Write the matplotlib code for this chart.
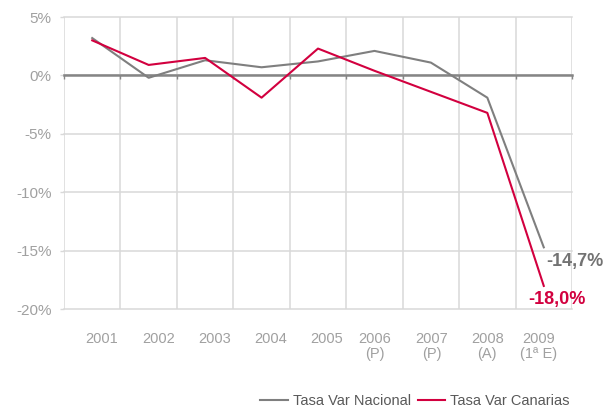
import matplotlib.pyplot as plt
from matplotlib.transforms import offset_copy, blended_transform_factory
from matplotlib.ticker import FuncFormatter

plt.rcParams['font.family'] = ['Liberation Sans', 'DejaVu Sans']

# Datos
years = ["2001", "2002", "2003", "2004", "2005", "2006\n(P)", "2007\n(P)", "2008\n(A)", "2009\n(1ª E)"]
nacional = [3.2, -0.2, 1.3, 0.7, 1.2, 2.1, 1.1, -1.9, -14.7]
canarias = [3.0, 0.9, 1.5, -1.9, 2.3, 0.4, -1.4, -3.2, -18.0]
label_nacional = "-14,7%"
label_canarias = "-18,0%"

# desplazamiento horizontal de las etiquetas (puntos)
label_dx = [7, 7, 7, 6.5, 6.5, 0, 0.5, 0, -3.5]

c_nac = "#7f7f7f"
c_can = "#d2003f"
c_grid = "#d9d9d9"
c_tick = "#a0a0a0"

fig = plt.figure(figsize=(6.08, 4.08), dpi=100)
W, H = 608, 408
ax = fig.add_axes([64 / W, 1 - 309.3 / H, (572 - 64) / W, (309.3 - 17) / H])

x = list(range(len(years)))
ax.plot(x, nacional, color=c_nac, lw=1.5, zorder=3, label="Tasa Var Nacional")
ax.plot(x, canarias, color=c_can, lw=1.5, zorder=3, label="Tasa Var Canarias")

ax.set_xlim(-0.5, len(years) - 0.5)
ax.set_ylim(-20, 5)
ax.set_yticks(range(-20, 6, 5))
ax.yaxis.set_major_formatter(FuncFormatter(lambda v, p: f"{v:.0f}%"))
ax.set_xticks([i - 0.5 for i in range(len(years) + 1)])
ax.set_xticklabels([])

ax.grid(True, color=c_grid, lw=1.1, zorder=0)
for gl in ax.get_xgridlines() + ax.get_ygridlines():
    gl.set_clip_on(False)

for s in ["left", "top", "right"]:
    ax.spines[s].set_visible(False)
ax.spines["bottom"].set_position(("data", 0))
ax.spines["bottom"].set_color("#858585")
ax.spines["bottom"].set_linewidth(1.8)
ax.spines["bottom"].set_zorder(2)

ax.tick_params(axis="x", direction="out", length=3, width=1, color="#858585")
ax.tick_params(axis="y", length=3, width=1, color=c_grid, labelsize=11,
               labelcolor=c_tick, pad=6)

# etiquetas de categoria
base = blended_transform_factory(ax.transData, ax.transAxes)
for i, lab in enumerate(years):
    tr = offset_copy(base, fig=fig, x=label_dx[i], y=0, units="points")
    ax.text(i, -0.076, lab, transform=tr, ha="center", va="top",
            fontsize=10.5, color=c_tick, linespacing=1.15)

# etiquetas finales
ax.annotate(label_nacional, xy=(x[-1], nacional[-1]), xytext=(1.5, -10),
            textcoords="offset points", ha="left", va="center",
            fontsize=13, fontweight="bold", color="#737373", annotation_clip=False)
ax.annotate(label_canarias, xy=(x[-1], canarias[-1]), xytext=(-11, -10),
            textcoords="offset points", ha="left", va="center",
            fontsize=13, fontweight="bold", color=c_can, annotation_clip=False)

fig.legend(loc="center right", bbox_to_anchor=(570 / W, 7 / H), ncol=2,
           frameon=False, fontsize=10.5, handlelength=1.9, handletextpad=0.35,
           columnspacing=0.45, borderpad=0, borderaxespad=0, labelcolor="#595959")

fig.savefig("out.png", dpi=100)
